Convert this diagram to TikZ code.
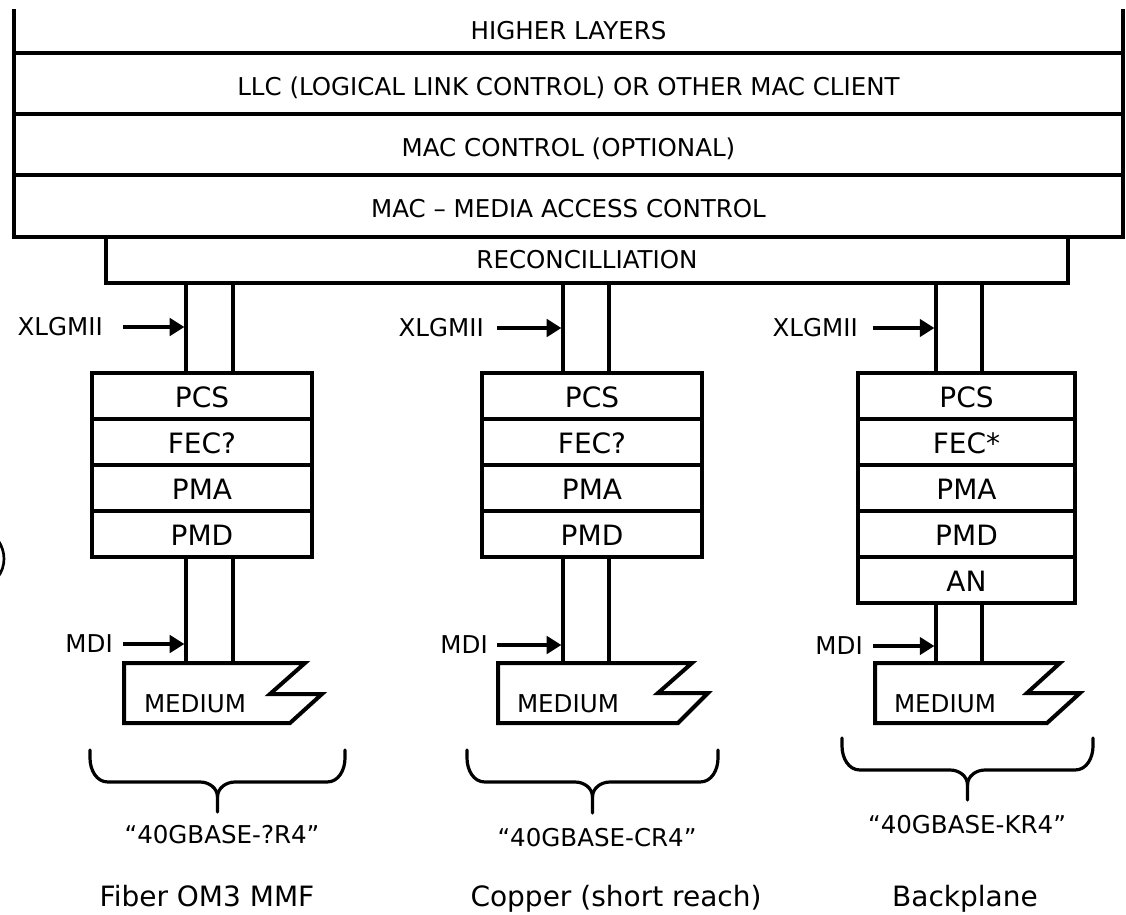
\documentclass[tikz,border=0pt]{standalone}
\usepackage{fontspec}
\setmainfont{DejaVu Sans}
\usetikzlibrary{arrows.meta}
\newcommand\fsA{\fontsize{18.4}{22}\selectfont}
\newcommand\fsB{\fontsize{21}{25}\selectfont}
\begin{document}
\begin{tikzpicture}[x=0.75pt,y=-0.75pt,
  lw/.style={line width=3pt},
  band/.style={draw,lw,inner sep=0pt,font=\fsA,text height=17.9pt,text depth=0pt},
  layer/.style={draw,lw,inner sep=0pt,font=\fsB,minimum width=165pt,minimum height=34.5pt,text height=16.8pt,text depth=0pt},
  lbl/.style={inner sep=0pt,font=\fsA,text height=13.4pt,text depth=0pt},
  basetxt/.style={inner sep=0pt,anchor=base},
  arr/.style={lw,shorten >=1.2pt,-{Triangle[length=11pt,width=13pt]}},
  bus/.style={lw},
  brc/.style={line width=2.4pt,line cap=round},
  medium/.style={lw,line join=miter}]

\useasboundingbox (0,0) rectangle (1126,914);

% upper layers
\node[band,minimum width=831.75pt,minimum height=45.75pt] (llc) at (568.5,83.5) {LLC (LOGICAL LINK CONTROL) OR OTHER MAC CLIENT};
\node[band,minimum width=831.75pt,minimum height=45.75pt] (macc) at (568.5,144.5) {MAC CONTROL (OPTIONAL)};
\node[band,minimum width=831.75pt,minimum height=46.5pt] (mac) at (568.5,206) {MAC – MEDIA ACCESS CONTROL};
\node[band,minimum width=721.5pt,minimum height=34.5pt,text height=13.4pt] (recon) at (587,260) {RECONCILLIATION};
\coordinate (tl) at (14,9);
\coordinate (tr) at (1123,9);
\draw[lw] (tl) -- (tl |- llc.north);
\draw[lw] (tr) -- (tr |- llc.north);
\node[lbl] (hl) at (568.5,31) {HIGHER LAYERS};

% stacks
\node[layer] (pcsL) at (202,396) {PCS};
\node[layer] (fecL) at (202,442) {FEC?};
\node[layer] (pmaL) at (202,488) {PMA};
\node[layer] (pmdL) at (202,534) {PMD};

\node[layer] (pcsM) at (592,396) {PCS};
\node[layer] (fecM) at (592,442) {FEC?};
\node[layer] (pmaM) at (592,488) {PMA};
\node[layer] (pmdM) at (592,534) {PMD};

\node[layer,minimum width=162.75pt] (pcsR) at (966.5,396) {PCS};
\node[layer,minimum width=162.75pt] (fecR) at (966.5,442) {FEC*};
\node[layer,minimum width=162.75pt] (pmaR) at (966.5,488) {PMA};
\node[layer,minimum width=162.75pt] (pmdR) at (966.5,534) {PMD};
\node[layer,minimum width=162.75pt] (anR) at (966.5,580) {AN};

% bus positions and medium tops
\coordinate (bL1) at (186,0); \coordinate (bL2) at (233,0);
\coordinate (bM1) at (563,0); \coordinate (bM2) at (609,0);
\coordinate (bR1) at (936,0); \coordinate (bR2) at (982,0);
\coordinate (mL) at (124,663);
\coordinate (mM) at (498,663);
\coordinate (mR) at (875,663);

% buses
\draw[bus] (recon.south -| bL1) -- (pcsL.north -| bL1);
\draw[bus] (recon.south -| bL2) -- (pcsL.north -| bL2);
\draw[bus] (recon.south -| bM1) -- (pcsM.north -| bM1);
\draw[bus] (recon.south -| bM2) -- (pcsM.north -| bM2);
\draw[bus] (recon.south -| bR1) -- (pcsR.north -| bR1);
\draw[bus] (recon.south -| bR2) -- (pcsR.north -| bR2);
\draw[bus] (pmdL.south -| bL1) -- (mL -| bL1);
\draw[bus] (pmdL.south -| bL2) -- (mL -| bL2);
\draw[bus] (pmdM.south -| bM1) -- (mM -| bM1);
\draw[bus] (pmdM.south -| bM2) -- (mM -| bM2);
\draw[bus] (anR.south -| bR1) -- (mR -| bR1);
\draw[bus] (anR.south -| bR2) -- (mR -| bR2);

% media
\draw[medium] (mL) -- (305,663) -- (270,694) -- (322,694) -- (290,723) -- (124,723) -- cycle;
\draw[medium] (mM) -- (692,663) -- (658,693) -- (708,693) -- (678,723) -- (498,723) -- cycle;
\draw[medium] (mR) -- (1060,663) -- (1027,693) -- (1080,693) -- (1047,723) -- (875,723) -- cycle;
\node[basetxt,font=\fsA] (medL) at (195,712) {MEDIUM};
\node[basetxt,font=\fsA] (medM) at (568,712) {MEDIUM};
\node[basetxt,font=\fsA] (medR) at (945,712) {MEDIUM};

% interface labels and arrows
\node[lbl,anchor=east] (xL) at (103,327) {XLGMII};
\node[lbl,anchor=east] (xM) at (484,328) {XLGMII};
\node[lbl,anchor=east] (xR) at (858,328) {XLGMII};
\draw[arr] ([xshift=15pt]xL.east) -- (xL.east -| bL1);
\draw[arr] ([xshift=10pt]xM.east) -- (xM.east -| bM1);
\draw[arr] ([xshift=11pt]xR.east) -- (xR.east -| bR1);

\node[lbl,anchor=east] (dL) at (113,644) {MDI};
\node[lbl,anchor=east] (dM) at (488,645) {MDI};
\node[lbl,anchor=east] (dR) at (863,646) {MDI};
\draw[arr] ([xshift=7.5pt]dL.east) -- (dL.east -| bL1);
\draw[arr] ([xshift=7pt]dM.east) -- (dM.east -| bM1);
\draw[arr] ([xshift=7.5pt]dR.east) -- (dR.east -| bR1);

% braces
\draw[brc] (90,750) -- (90,758) to[out=-90,in=180] (108,782) -- (200,782) to[out=0,in=90] (217.5,797) -- (217.5,812);
\draw[brc] (345,750) -- (345,758) to[out=-90,in=0] (327,782) -- (235,782) to[out=180,in=90] (217.5,797);
\draw[brc] (467,750) -- (467,758) to[out=-90,in=180] (485,782) -- (575,782) to[out=0,in=90] (592.5,797) -- (592.5,813);
\draw[brc] (718,750) -- (718,758) to[out=-90,in=0] (700,782) -- (610,782) to[out=180,in=90] (592.5,797);
\draw[brc] (842,738) -- (842,746) to[out=-90,in=180] (860,770) -- (950,770) to[out=0,in=90] (967.5,785) -- (967.5,800);
\draw[brc] (1093,738) -- (1093,746) to[out=-90,in=0] (1075,770) -- (985,770) to[out=180,in=90] (967.5,785);

% captions
\node[basetxt,font=\fsA] (sL) at (222,843) {“40GBASE-?R4”};
\node[basetxt,font=\fsA] (sM) at (597,846) {“40GBASE-CR4”};
\node[basetxt,font=\fsA] (sR) at (967,833) {“40GBASE-KR4”};
\node[basetxt,font=\fsB] (tL) at (207,906) {Fiber OM3 MMF};
\node[basetxt,font=\fsB] (tM) at (616,906) {Copper (short reach)};
\node[basetxt,font=\fsB] (tR) at (965,906) {Backplane};

% cut-off fragment at the left edge
\draw[line width=2pt] (-2,540) .. controls (6,552) and (6,566) .. (-2,577);
\end{tikzpicture}
\end{document}
